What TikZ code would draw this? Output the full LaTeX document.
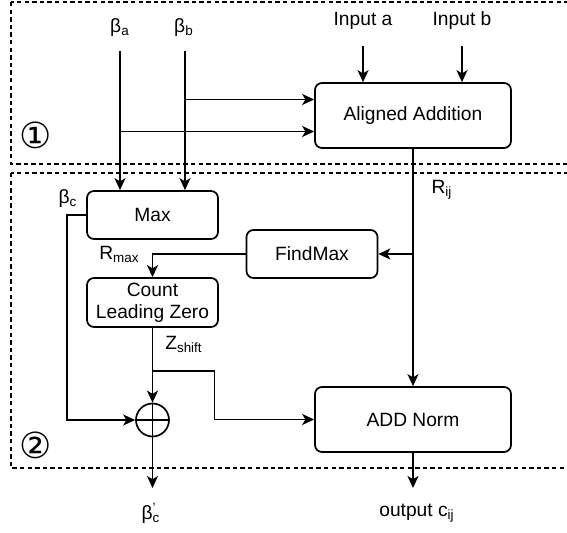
\documentclass[tikz,border=0pt]{standalone}
\usepackage{fontspec}
\setmainfont{Liberation Sans}
\newfontfamily\symfont{DejaVu Sans}
\usetikzlibrary{arrows.meta}
\begin{document}
\begin{tikzpicture}[x=0.5pt,y=-0.5pt,line width=0.85pt,
  font=\fontsize{9.6}{11}\selectfont,
  blk/.style={draw,rounded corners=3.5pt,align=center,inner sep=1pt},
  wide/.style={minimum width=98pt,minimum height=32.5pt},
  small/.style={minimum width=65.5pt,minimum height=24pt},
  arr/.style={-{Stealth[length=6pt,width=5.5pt,inset=1.6pt]}},
  zone/.style={draw,line width=0.65pt,dash pattern=on 2.2pt off 1.6pt},
  lbl/.style={inner sep=0pt},
  num/.style={inner sep=0pt,font=\symfont\fontsize{18}{19}\selectfont}]
\useasboundingbox (0,0) rectangle (567,533);
\draw[zone] (11,2) rectangle (580,164);
\draw[zone] (11,173) rectangle (580,468);
\node[num] (z1) at (35.5,135.5) {①};
\node[num] (z2) at (35.5,445) {②};
\node[blk,wide] (align) at (413,115.5) {Aligned Addition};
\node[blk,small] (max) at (152.5,215) {Max};
\node[blk,small] (findmax) at (312,254) {FindMax};
\node[blk,small,minimum height=24.5pt] (clz) at (152.5,302.5) {Count\\Leading Zero};
\node[blk,wide] (addnorm) at (413,419.5) {ADD Norm};
\node[draw,circle,minimum size=16.5pt,inner sep=0pt,
  path picture={\draw (path picture bounding box.north) -- (path picture bounding box.south)
  (path picture bounding box.west) -- (path picture bounding box.east);}] (sum) at (152.5,420) {};
\node[lbl] (ba) at (120,28) {β\textsubscript{a}};
\node[lbl] (bb) at (184,28) {β\textsubscript{b}};
\node[lbl] (ina) at (363,20.5) {Input a};
\node[lbl] (inb) at (462,20.5) {Input b};
\node[lbl] (rij) at (442,190) {R\textsubscript{ij}};
\node[lbl] (bc) at (68,199) {β\textsubscript{c}};
\node[lbl] (rmax) at (119.5,254) {R\textsubscript{max}};
\node[lbl] (zs) at (184,344) {Z\textsubscript{shift}};
\node[lbl] (bcp) at (151,513) {β\rlap{\textsuperscript{'}}\textsubscript{c}};
\node[lbl] (out) at (417,513) {output c\textsubscript{ij}};
\coordinate (ba0) at (120,51);
\coordinate (bb0) at (185,51);
\coordinate (ia0) at (363,46);
\coordinate (ib0) at (462,46);
\coordinate (in1) at ([yshift=8pt]align.west);
\coordinate (in2) at ([yshift=-8pt]align.west);
\coordinate (br) at (152.5,371);
\coordinate (bco) at (152.5,488);
\coordinate (oc) at (413,488);
\draw[arr] (ba0) -- (ba0 |- max.north);
\draw[arr] (bb0) -- (bb0 |- max.north);
\draw[arr] (bb0 |- in1) -- (in1);
\draw[arr] (ba0 |- in2) -- (in2);
\draw[arr] (ia0) -- (ia0 |- align.north);
\draw[arr] (ib0) -- (ib0 |- align.north);
\draw[arr] (align.south) -- (addnorm.north);
\draw[arr] (align.south |- findmax.east) -- (findmax.east);
\draw[arr] (findmax.west) -| (clz.north);
\draw[arr] (max.west) -- ++(-19,0) |- (sum.west);
\draw[arr] (clz.south) -- (sum.north);
\draw[arr] (br) -- ++(62,0) |- (addnorm.west);
\draw[arr] (sum.south) -- (bco);
\draw[arr] (addnorm.south) -- (oc);
\end{tikzpicture}
\end{document}
